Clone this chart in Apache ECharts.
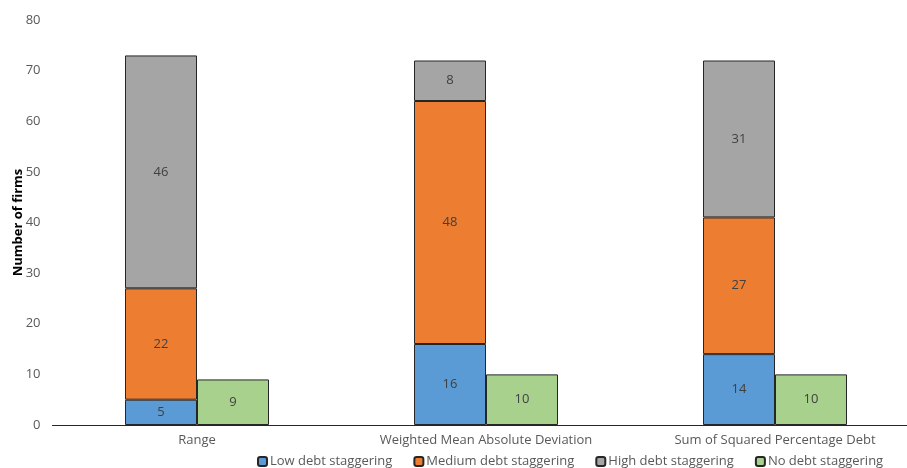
<!DOCTYPE html>
<html><head><meta charset="utf-8">
<script src="https://cdn.jsdelivr.net/npm/echarts@6/dist/echarts.min.js"></script>
<style>html,body{margin:0;padding:0;background:#fff}#c{width:907px;height:468px}</style>
</head><body><div id="c"></div>
<script>
const categories = ['Range', 'Weighted Mean Absolute Deviation', 'Sum of Squared Percentage Debt'];
const lowDebt = [5, 16, 14];
const mediumDebt = [22, 48, 27];
const highDebt = [46, 8, 31];
const noDebt = [9, 10, 10];
const yTicks = [0, 10, 20, 30, 40, 50, 60, 70, 80];

const FONT = 'Open Sans';
const lbl = {show: true, position: 'inside', color: '#404040', fontSize: 13, fontFamily: FONT};
function mk(name, data, color, stack) {
  const s = {name, type: 'bar', data, barWidth: 72,
    itemStyle: {color, borderColor: '#262626', borderWidth: 1},
    label: lbl};
  if (stack) s.stack = stack;
  return s;
}
const chart = echarts.init(document.getElementById('c'), null, {renderer: 'canvas'});
chart.setOption({
  animation: false,
  textStyle: {fontFamily: FONT},
  grid: {left: 52.5, right: -12.5, top: 20, bottom: 43, containLabel: false, outerBoundsMode: 'none'},
  legend: {
    left: 252, top: 450, itemWidth: 9, itemHeight: 9, itemGap: 21,
    textStyle: {color: '#595959', fontSize: 13, fontFamily: FONT, padding: [0,0,0,-2]},
    data: ['Low debt staggering', 'Medium debt staggering', 'High debt staggering', 'No debt staggering']
  },
  xAxis: {
    type: 'category', data: categories,
    axisLine: {lineStyle: {color: '#262626', width: 1}},
    axisTick: {show: false},
    axisLabel: {color: '#595959', fontSize: 13, fontFamily: FONT, margin: 9}
  },
  yAxis: {
    type: 'value', min: yTicks[0], max: yTicks[yTicks.length - 1], interval: 10,
    name: 'Number of firms', nameLocation: 'middle', nameGap: 28, nameMoveOverlap: false,
    nameTextStyle: {color: '#000', fontWeight: 'bold', fontSize: 13, fontFamily: FONT},
    axisLine: {show: false}, axisTick: {show: false}, splitLine: {show: false},
    axisLabel: {color: '#595959', fontSize: 13, fontFamily: FONT, margin: 12}
  },
  series: [
    mk('Low debt staggering', lowDebt, '#5B9BD5', 'a'),
    mk('Medium debt staggering', mediumDebt, '#ED7D31', 'a'),
    Object.assign(mk('High debt staggering', highDebt, '#A5A5A5', 'a'), {barGap: '0%'}),
    Object.assign(mk('No debt staggering', noDebt, '#A9D18E'), {barGap: '0%'})
  ]
});
</script></body></html>
